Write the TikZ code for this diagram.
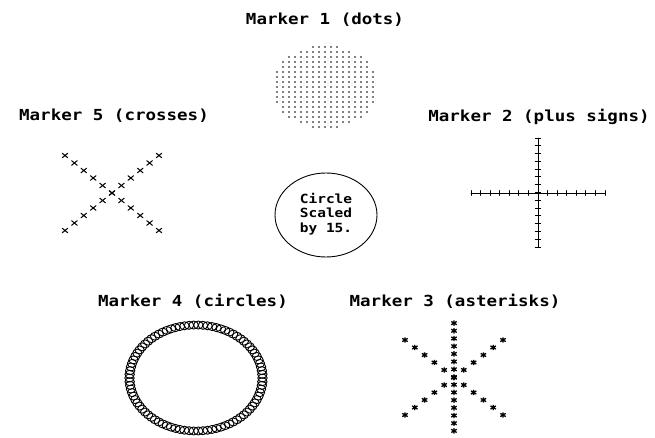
\documentclass[tikz,border=0pt]{standalone}
\usepackage{fontspec}
\setmonofont{DejaVu Sans Mono}
\usetikzlibrary{shapes.geometric}
\newcommand{\mksq}[1]{\scalebox{1}[0.87]{#1}}
\tikzset{
  titletext/.style={font=\ttfamily\bfseries\fontsize{17.5}{20}\selectfont, inner sep=0pt, anchor=center},
  mk/.style={line width=0.9pt, line cap=round},
  crossm/.pic={\draw[line width=1pt, line cap=round] (-2.8,-2.3)--(2.8,2.3) (-2.8,2.3)--(2.8,-2.3);},
  astm/.pic={\draw[line width=1.3pt] (0,-2.7)--(0,2.7) (-2.7,-1.6)--(2.7,1.6) (-2.7,1.6)--(2.7,-1.6);},
}
\begin{document}
\begin{tikzpicture}[x=1pt,y=-1pt]
\useasboundingbox (0,0) rectangle (655,438);
\fill[white] (0,0) rectangle (655,438);

% titles
\node[titletext] (t1) at (325,20)  {\mksq{Marker 1 (dots)}};
\node[titletext] (t5) at (114,116) {\mksq{Marker 5 (crosses)}};
\node[titletext] (t2) at (539,117) {\mksq{Marker 2 (plus signs)}};
\node[titletext] (t4) at (193,301) {\mksq{Marker 4 (circles)}};
\node[titletext] (t3) at (455,301) {\mksq{Marker 3 (asterisks)}};

% Marker 1: dots
\foreach \j in {-8,...,8} {
  \foreach \k in {-9,...,9} {
    \pgfmathsetmacro\vv{(6*\k/53)^2+(5*\j/41.2)^2}
    \ifdim\vv pt<1pt \fill ({325+6*\k},{87+5*\j}) circle (0.9pt);\fi
  }
}

% Marker 5: crosses
\foreach \i in {-5,...,5} {
  \path ({112+9.4*\i},{193+7.5*\i}) pic {crossm};
  \path ({112+9.4*\i},{193-7.5*\i}) pic {crossm};
}

% Marker 2: plus signs
\draw[mk] (471,193) -- (605,193);
\draw[mk] (538,138) -- (538,247);
\foreach \i in {0,...,14} {
  \draw[mk] ({471+9.57*\i},190.5) -- ++(0,5);
  \draw[mk] (535.3,{138+7.79*\i}) -- ++(5.4,0);
}

% Circle scaled by 15
\node[draw, ellipse, line width=0.9pt, minimum width=102pt, minimum height=84pt, inner sep=0pt,
      font=\ttfamily\bfseries\fontsize{14.5}{17.2}\selectfont] (circ) at (326,215)
  {\scalebox{1}[0.87]{\begin{tabular}{@{}c@{}}Circle\\Scaled\\by 15.\end{tabular}}};

% Marker 4: circles
\foreach \a in {0,4,...,356} {
  \draw[line width=0.9pt] ({196+66.5*cos(\a)},{378-53*sin(\a)}) ellipse (4.7pt and 4pt);
}

% Marker 3: asterisks
\foreach \i in {-7,...,7} {
  \path (454,{377+7.7*\i}) pic {astm};
}
\foreach \i in {-5,...,5} {
  \path ({454+9.8*\i},{377.5+7.5*\i}) pic {astm};
  \path ({454+9.8*\i},{377.5-7.5*\i}) pic {astm};
}
\end{tikzpicture}
\end{document}
